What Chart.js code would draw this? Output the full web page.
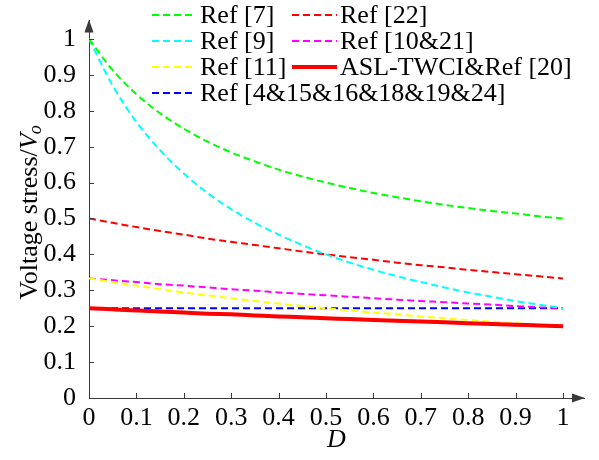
<!DOCTYPE html>
<html>
<head>
<meta charset="utf-8">
<script src="https://cdn.jsdelivr.net/npm/chart.js@4.4.1/dist/chart.umd.min.js"></script>
<style>
  html, body { margin: 0; padding: 0; background: #fff; }
  #wrap { width: 599px; height: 460px; position: relative; }
</style>
</head>
<body>
<div id="wrap"><canvas id="c"></canvas></div>
<script>
// duty cycle D
const dutyD = [0, 0.05, 0.1, 0.15, 0.2, 0.25, 0.3, 0.35, 0.4, 0.45, 0.5,
               0.55, 0.6, 0.65, 0.7, 0.75, 0.8, 0.85, 0.9, 0.95, 1];

// values
const ref7   = [1, 0.913, 0.846, 0.793, 0.75, 0.714, 0.684, 0.659, 0.636, 0.617, 0.6,
                0.585, 0.571, 0.559, 0.548, 0.538, 0.529, 0.521, 0.514, 0.506, 0.5];
const ref9   = [1, 0.87, 0.769, 0.69, 0.625, 0.571, 0.526, 0.488, 0.455, 0.426, 0.4,
                0.377, 0.357, 0.339, 0.323, 0.308, 0.294, 0.282, 0.27, 0.26, 0.25];
const ref11  = [0.333, 0.323, 0.313, 0.303, 0.294, 0.286, 0.278, 0.27, 0.263, 0.256, 0.25,
                0.244, 0.238, 0.233, 0.227, 0.222, 0.217, 0.213, 0.208, 0.204, 0.2];
const ref4   = [0.25, 0.25, 0.25, 0.25, 0.25, 0.25, 0.25, 0.25, 0.25, 0.25, 0.25,
                0.25, 0.25, 0.25, 0.25, 0.25, 0.25, 0.25, 0.25, 0.25, 0.25];
const ref22  = [0.5, 0.488, 0.476, 0.465, 0.455, 0.444, 0.435, 0.426, 0.417, 0.408, 0.4,
                0.392, 0.385, 0.377, 0.37, 0.364, 0.357, 0.351, 0.345, 0.339, 0.333];
const ref10  = [0.333, 0.328, 0.323, 0.317, 0.313, 0.308, 0.303, 0.299, 0.294, 0.29, 0.286,
                0.282, 0.278, 0.274, 0.27, 0.267, 0.263, 0.26, 0.256, 0.253, 0.25];
const aslTwci = [0.25, 0.247, 0.244, 0.241, 0.238, 0.235, 0.233, 0.23, 0.227, 0.225, 0.222,
                 0.22, 0.217, 0.215, 0.213, 0.211, 0.208, 0.206, 0.204, 0.202, 0.2];

const xTicks = [0, 0.1, 0.2, 0.3, 0.4, 0.5, 0.6, 0.7, 0.8, 0.9, 1];
const yTicks = [0, 0.1, 0.2, 0.3, 0.4, 0.5, 0.6, 0.7, 0.8, 0.9, 1];

const FONT = '"Liberation Serif", "Times New Roman", serif';
const FS = 26;
const AXIS = '#3a3a3a';

function pts(ys) {
    return dutyD.map(function(x, i) { return { x: x, y: ys[i] }; });
}

function dashed(label, data, color, col, row) {
    return {
        label: label, data: pts(data), borderColor: color, backgroundColor: color,
        borderWidth: 2, borderDash: [7, 4], pointRadius: 0,
        cubicInterpolationMode: 'monotone', legendCol: col, legendRow: row
    };
}

const datasets = [
    dashed('Ref [7]', ref7, '#00ff00', 0, 0),
    dashed('Ref [9]', ref9, '#00ffff', 0, 1),
    dashed('Ref [11]', ref11, '#ffff00', 0, 2),
    dashed('Ref [22]', ref22, '#ff0000', 1, 0),
    dashed('Ref [10&21]', ref10, '#ff00ff', 1, 1),
    dashed('Ref [4&15&16&18&19&24]', ref4, '#0000ff', 0, 3),
    {
        label: 'ASL-TWCI&Ref [20]', data: pts(aslTwci), borderColor: '#ff0000',
        backgroundColor: '#ff0000', borderWidth: 4, pointRadius: 0,
        cubicInterpolationMode: 'monotone', legendCol: 1, legendRow: 2,
        order: -1   // solid line on top of the dashed ones
    }
];

// axis arrows, inward tick marks, y title, legend
const decor = {
    id: 'decor',
    afterDraw: function(chart) {
        const ctx = chart.ctx;
        const xs = chart.scales.x, ys = chart.scales.y;
        const ox = xs.getPixelForValue(0), oy = ys.getPixelForValue(0);
        const ca = chart.chartArea;
        ctx.save();
        ctx.strokeStyle = AXIS;
        ctx.fillStyle = AXIS;
        ctx.lineWidth = 1;
        // ticks pointing inside
        ctx.beginPath();
        xTicks.forEach(function(v) {
            const px = Math.round(xs.getPixelForValue(v)) + 0.5;
            ctx.moveTo(px, oy); ctx.lineTo(px, oy - 5);
        });
        yTicks.forEach(function(v) {
            const py = Math.round(ys.getPixelForValue(v)) + 0.5;
            ctx.moveTo(ox, py); ctx.lineTo(ox + 5, py);
        });
        ctx.stroke();
        // arrows
        ctx.beginPath();
        ctx.moveTo(ca.right + 1, oy);
        ctx.lineTo(ca.right - 12, oy - 4.5);
        ctx.lineTo(ca.right - 12, oy + 4.5);
        ctx.closePath();
        ctx.fill();
        ctx.beginPath();
        ctx.moveTo(ox, ca.top - 1);
        ctx.lineTo(ox - 4.5, ca.top + 12);
        ctx.lineTo(ox + 4.5, ca.top + 12);
        ctx.closePath();
        ctx.fill();

        // y title: Voltage stress/V_o
        ctx.fillStyle = '#000';
        ctx.translate(30, 212);
        ctx.rotate(-Math.PI / 2);
        ctx.textBaseline = 'middle';
        ctx.textAlign = 'left';
        const t1 = 'Voltage stress/';
        ctx.font = FS + 'px ' + FONT;
        const w1 = ctx.measureText(t1).width;
        ctx.font = 'italic ' + FS + 'px ' + FONT;
        const w2 = ctx.measureText('V').width;
        ctx.font = 'italic 18px ' + FONT;
        const w3 = ctx.measureText('o').width;
        const x0 = -(w1 + w2 + w3) / 2;
        ctx.font = FS + 'px ' + FONT;
        ctx.fillText(t1, x0, 0);
        ctx.font = 'italic ' + FS + 'px ' + FONT;
        ctx.fillText('V', x0 + w1, 0);
        ctx.font = 'italic 18px ' + FONT;
        ctx.fillText('o', x0 + w1 + w2 - 1, 6);
        ctx.restore();

        // legend
        ctx.save();
        ctx.font = FS + 'px ' + FONT;
        ctx.textBaseline = 'alphabetic';
        ctx.textAlign = 'left';
        const colLine = [[152, 195], [292, 337]];
        const textX = [200, 340];
        const rowY = [15, 41, 67, 93];
        chart.data.datasets.forEach(function(ds) {
            const l = colLine[ds.legendCol], y = rowY[ds.legendRow];
            ctx.strokeStyle = ds.borderColor;
            ctx.lineWidth = ds.borderWidth;
            ctx.setLineDash(ds.borderDash || []);
            ctx.beginPath();
            ctx.moveTo(l[0], y); ctx.lineTo(l[1], y);
            ctx.stroke();
            ctx.setLineDash([]);
            ctx.fillStyle = '#000';
            ctx.fillText(ds.label, textX[ds.legendCol], y + 8);
        });
        ctx.restore();
    }
};

function fmt(v) { return String(Number(v.toFixed(1))); }
function setTicks(list) {
    return function(scale) {
        scale.ticks = list.map(function(v) { return { value: v }; });
    };
}

new Chart(document.getElementById('c'), {
    type: 'line',
    data: { datasets: datasets },
    options: {
        responsive: true,
        maintainAspectRatio: false,
        animation: false,
        layout: { padding: { left: 0, right: 15, top: 8, bottom: 0 } },
        plugins: { legend: { display: false }, tooltip: { enabled: false } },
        scales: {
            x: {
                type: 'linear', min: 0, max: 1.0443,
                grid: { display: false },
                border: { display: true, color: AXIS, width: 1 },
                afterBuildTicks: setTicks(xTicks),
                afterFit: function(s) { s.height = 62; },
                ticks: {
                    padding: -3, color: '#000', maxRotation: 0,
                    autoSkip: false, font: { family: FONT, size: FS },
                    callback: fmt
                },
                title: {
                    display: true, text: 'D', color: '#000', padding: { top: -2 },
                    font: { family: FONT, size: FS, style: 'italic' }
                }
            },
            y: {
                type: 'linear', min: 0, max: 1.0512,
                grid: { display: false },
                border: { display: true, color: AXIS, width: 1 },
                afterBuildTicks: setTicks(yTicks),
                afterFit: function(s) { s.width = 89; },
                ticks: {
                    padding: 5, color: '#000', autoSkip: false,
                    font: { family: FONT, size: FS },
                    callback: fmt
                }
            }
        }
    },
    plugins: [decor]
});
</script>
</body>
</html>
